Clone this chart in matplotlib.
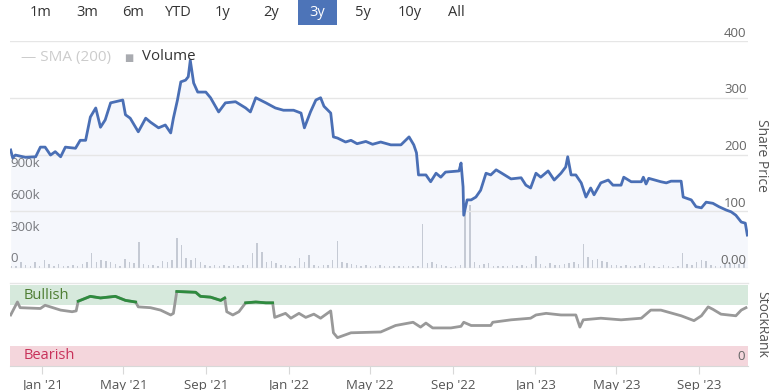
import matplotlib
matplotlib.use("Agg")
import matplotlib.pyplot as plt
import matplotlib.dates as mdates
import numpy as np
import pandas as pd

plt.rcParams["font.family"] = ["Open Sans", "DejaVu Sans"]

# share price
price_dates = [
    "2020-11-15", "2020-11-18", "2020-11-22", "2020-12-07", "2020-12-22", "2020-12-29",
    "2021-01-05", "2021-01-13", "2021-01-20", "2021-01-28", "2021-02-04", "2021-02-19",
    "2021-02-26", "2021-03-06", "2021-03-13", "2021-03-21", "2021-03-28", "2021-04-04",
    "2021-04-12", "2021-04-19", "2021-04-30", "2021-05-04", "2021-05-11", "2021-05-23",
    "2021-06-03", "2021-06-10", "2021-06-22", "2021-07-02", "2021-07-10", "2021-07-14",
    "2021-07-20", "2021-07-25", "2021-08-01", "2021-08-05", "2021-08-08", "2021-08-13",
    "2021-08-19", "2021-08-31", "2021-09-07", "2021-09-19", "2021-09-29", "2021-10-14",
    "2021-10-29", "2021-11-05", "2021-11-13", "2021-11-28", "2021-12-12", "2021-12-24",
    "2022-01-08", "2022-01-19", "2022-01-24", "2022-02-02", "2022-02-10", "2022-02-17",
    "2022-02-22", "2022-03-04", "2022-03-08", "2022-03-14", "2022-03-26", "2022-04-03",
    "2022-04-12", "2022-04-25", "2022-05-05", "2022-05-17", "2022-06-01", "2022-06-16",
    "2022-06-28", "2022-07-05", "2022-07-09", "2022-07-12", "2022-07-23", "2022-07-30",
    "2022-08-07", "2022-08-14", "2022-08-21", "2022-09-10", "2022-09-13", "2022-09-16",
    "2022-09-17", "2022-09-22", "2022-09-28", "2022-10-05", "2022-10-12", "2022-10-20",
    "2022-10-27", "2022-11-04", "2022-11-11", "2022-11-26", "2022-12-11", "2022-12-18",
    "2022-12-25", "2023-01-02", "2023-01-09", "2023-01-20", "2023-01-29", "2023-02-08",
    "2023-02-15", "2023-02-18", "2023-02-23", "2023-03-02", "2023-03-10", "2023-03-17",
    "2023-03-24", "2023-03-29", "2023-04-08", "2023-04-19", "2023-04-26", "2023-05-08",
    "2023-05-12", "2023-05-23", "2023-06-07", "2023-06-10", "2023-06-14", "2023-06-18",
    "2023-07-06", "2023-07-14", "2023-07-21", "2023-08-05", "2023-08-08", "2023-08-20",
    "2023-08-27", "2023-09-04", "2023-09-11", "2023-09-21", "2023-09-30", "2023-10-11",
    "2023-10-18", "2023-10-25", "2023-11-02", "2023-11-08", "2023-11-11",
]
price = [
    208, 194, 199, 195, 196, 213,
    213, 199, 205, 196, 213, 211,
    225, 225, 266, 282, 248, 261,
    291, 293, 296, 270, 264, 240,
    264, 257, 247, 252, 238, 264,
    296, 328, 331, 337, 366, 326,
    310, 310, 300, 275, 291, 293,
    282, 275, 300, 291, 282, 278,
    278, 273, 247, 275, 296, 300,
    285, 273, 231, 229, 222, 225,
    219, 223, 218, 222, 217, 217,
    231, 217, 203, 164, 164, 152,
    167, 160, 169, 171, 185, 143,
    93, 120, 120, 125, 137, 167,
    164, 173, 168, 157, 159, 146,
    141, 167, 160, 171, 155, 167,
    178, 196, 164, 164, 150, 125,
    141, 129, 150, 155, 146, 146,
    160, 152, 152, 160, 148, 158,
    152, 150, 153, 153, 125, 120,
    108, 106, 116, 114, 108, 102,
    99, 93, 81, 79, 58,
]

# weekly volume, thousands of shares
volume_start = "2020-11-16"
volume_k = [
    20, 15, 55, 25, 20, 55, 20, 75, 40, 20,
    35, 15, 20, 30, 20, 35, 60, 140, 60, 75,
    65, 60, 40, 20, 85, 60, 50, 250, 40, 30,
    25, 20, 70, 60, 80, 280, 215, 90, 80, 90,
    60, 25, 20, 30, 15, 25, 20, 30, 20, 25,
    30, 140, 235, 155, 60, 70, 50, 30, 25, 20,
    15, 90, 60, 125, 25, 15, 25, 30, 80, 260,
    60, 50, 40, 25, 20, 25, 15, 20, 25, 15,
    20, 15, 15, 20, 15, 20, 15, 415, 50, 60,
    40, 30, 15, 10, 20, 30, 600, 600, 60, 25,
    40, 45, 20, 15, 20, 15, 25, 20, 30, 20,
    40, 110, 40, 20, 45, 25, 30, 35, 50, 60,
    40, 225, 100, 80, 85, 70, 60, 30, 25, 20,
    30, 15, 20, 30, 50, 20, 15, 10, 30, 15,
    10, 20, 140, 40, 30, 60, 80, 70, 30, 15,
    20, 40, 45, 35, 40, 60, 270,
]

# StockRank
rank_dates = [
    "2020-11-15", "2020-11-25", "2020-11-29", "2020-12-29", "2021-01-05", "2021-01-28",
    "2021-02-14", "2021-02-20", "2021-02-23", "2021-03-13", "2021-03-28", "2021-04-19",
    "2021-05-04", "2021-05-19", "2021-05-23", "2021-06-10", "2021-06-25", "2021-07-10",
    "2021-07-14", "2021-07-19", "2021-08-16", "2021-08-23", "2021-09-07", "2021-09-22",
    "2021-09-28", "2021-10-01", "2021-10-10", "2021-10-19", "2021-10-29", "2021-11-13",
    "2021-11-28", "2021-12-08", "2021-12-11", "2021-12-27", "2022-01-04", "2022-01-16",
    "2022-01-26", "2022-02-07", "2022-02-17", "2022-03-04", "2022-03-08", "2022-03-14",
    "2022-04-03", "2022-05-17", "2022-06-08", "2022-07-04", "2022-07-15", "2022-07-23",
    "2022-08-02", "2022-08-29", "2022-09-13", "2022-09-17", "2022-09-28", "2022-10-27",
    "2022-10-30", "2022-11-26", "2022-12-25", "2023-01-02", "2023-01-17", "2023-02-08",
    "2023-03-02", "2023-03-08", "2023-03-13", "2023-04-08", "2023-05-08", "2023-06-07",
    "2023-06-21", "2023-07-06", "2023-08-05", "2023-08-24", "2023-09-04", "2023-09-14",
    "2023-09-21", "2023-10-03", "2023-10-25", "2023-11-02", "2023-11-09",
]
rank = [
    63, 79, 72, 71, 75, 69,
    67, 68, 80, 86, 84, 86,
    81, 79, 73, 72, 69, 63,
    65, 92, 91, 86, 85, 81,
    84, 67, 63, 67, 78, 79,
    78, 78, 60, 65, 59, 65,
    60, 64, 59, 68, 41, 35,
    41, 42, 50, 54, 48, 53,
    47, 47, 49, 54, 50, 50,
    54, 57, 59, 63, 65, 63,
    63, 48, 57, 59, 57, 59,
    69, 69, 62, 56, 62, 73,
    70, 64, 62, 69, 72,
]

range_buttons = ["1m", "3m", "6m", "YTD", "1y", "2y", "3y", "5y", "10y", "All"]
price_ticks = [0, 100, 200, 300, 400]
price_labels = ["0.00", "100", "200", "300", "400"]
vol_ticks = [0, 300000, 600000, 900000]
vol_labels = ["0", "300k", "600k", "900k"]

price_dates = pd.to_datetime(price_dates)
rank_dates = pd.to_datetime(rank_dates)
vol_dates = pd.date_range(volume_start, periods=len(volume_k), freq="7D")
volume = np.array(volume_k) * 1000
rank = np.array(rank, dtype=float)

W, H = 769, 390


def rect(l, t, r, b):
    return [l / W, 1 - b / H, (r - l) / W, (b - t) / H]


fig = plt.figure(figsize=(W / 100, H / 100), dpi=100)
fig.patch.set_facecolor("white")

x0, x1 = pd.Timestamp("2020-11-14"), pd.Timestamp("2023-11-12")
grid_c = "#e6e6e6"
label_c = "#666666"

# ---- volume (underneath) ----
ax_vol = fig.add_axes(rect(10, 41, 748, 268))
ax_vol.bar(vol_dates, volume, width=2.2, color="#c5c8cf", zorder=2)
ax_vol.set_ylim(0, 2150000)
ax_vol.set_xlim(x0, x1)
ax_vol.set_yticks([])
ax_vol.set_xticks([])
for s in ax_vol.spines.values():
    s.set_visible(False)
for v, lab in zip(vol_ticks, vol_labels):
    ax_vol.annotate(lab, (0, v), xycoords=ax_vol.get_yaxis_transform(),
                    xytext=(0, 2), textcoords="offset points",
                    ha="left", va="bottom", fontsize=9.5, color=label_c)

# ---- price ----
ax = fig.add_axes(rect(10, 41, 748, 268))
ax.set_zorder(ax_vol.get_zorder() + 1)
ax.patch.set_visible(False)
ax.fill_between(price_dates, price, 0, color="#c9d4f0", alpha=0.18, lw=0, zorder=1)
ax.plot(price_dates, price, color="#4a6fb5", lw=2, zorder=3)
ax.set_ylim(0, 400)
ax.set_xlim(x0, x1)
ax.set_yticks(price_ticks)
ax.yaxis.grid(True, color=grid_c, lw=1)
ax.tick_params(left=False, right=False, labelleft=False, bottom=False, labelbottom=False)
for s in ax.spines.values():
    s.set_visible(False)
for v, lab in zip(price_ticks, price_labels):
    ax.annotate(lab, (1, v), xycoords=ax.get_yaxis_transform(),
                xytext=(-1, 1), textcoords="offset points",
                ha="right", va="bottom", fontsize=9.5, color=label_c)
fig.text(762 / W, 1 - 155 / H, "Share Price", rotation=270, ha="center", va="center",
         fontsize=10, color="#555555")

# legend
fig.text(21 / W, 1 - 57 / H, "\u2014 SMA (200)", ha="left", va="center", fontsize=11, color="#cccccc")
fig.text(124 / W, 1 - 58 / H, "\u25a0", ha="left", va="center", fontsize=7, color="#a9abb0")
fig.text(142 / W, 1 - 57 / H, "Volume", ha="left", va="center", fontsize=10.8, color="#333333")

# ---- StockRank ----
ax2 = fig.add_axes(rect(10, 285, 748, 366))
ax2.axhspan(75, 100, color="#d6e9dc", lw=0, zorder=0)
ax2.axhspan(0, 25, color="#f4d6dc", lw=0, zorder=0)
ax2.axhline(102, color=grid_c, lw=1, clip_on=False)
ax2.plot(rank_dates, rank, color="#999999", lw=2, zorder=2)
ax2.plot(rank_dates, np.ma.masked_less(rank, 74.5), color="#2e8b3e", lw=2, zorder=3)
ax2.set_ylim(0, 100)
ax2.set_xlim(x0, x1)
ax2.set_yticks([])
for s in ["top", "left", "right"]:
    ax2.spines[s].set_visible(False)
ax2.spines["bottom"].set_color("#d8d8d8")
ax2.xaxis.set_major_locator(mdates.MonthLocator(bymonth=[1, 5, 9]))
ax2.xaxis.set_major_formatter(mdates.DateFormatter("%b '%y"))
ax2.tick_params(axis="x", length=6, color="#d8d8d8", labelsize=9.5, labelcolor="#555555", pad=3)
ax2.text(0.018, 87.5, "Bullish", transform=ax2.get_yaxis_transform(), ha="left", va="center",
         fontsize=10.5, color="#4e7d32")
ax2.text(0.018, 12.5, "Bearish", transform=ax2.get_yaxis_transform(), ha="left", va="center",
         fontsize=10.5, color="#c8325a")
ax2.annotate("0", (1, 0), xycoords=ax2.get_yaxis_transform(), xytext=(-2, 2),
             textcoords="offset points", ha="right", va="bottom", fontsize=9.5, color=label_c)
fig.text(762 / W, 1 - 324 / H, "StockRank", rotation=270, ha="center", va="center",
         fontsize=10, color="#555555")

# ---- range selector ----
btn_x = [41, 87, 133, 178, 223, 271, 317, 363, 410, 456]
for bx, lab in zip(btn_x, range_buttons):
    if lab == "3y":
        fig.patches.append(plt.Rectangle((298 / W, 1 - 25 / H), 39 / W, 25 / H,
                                         transform=fig.transFigure, color="#4d74b8",
                                         lw=0))
        c = "white"
    else:
        c = "#333333"
    fig.text(bx / W, 1 - 12 / H, lab, ha="center", va="center", fontsize=10.5, color=c)

fig.savefig("out.png", dpi=100)
